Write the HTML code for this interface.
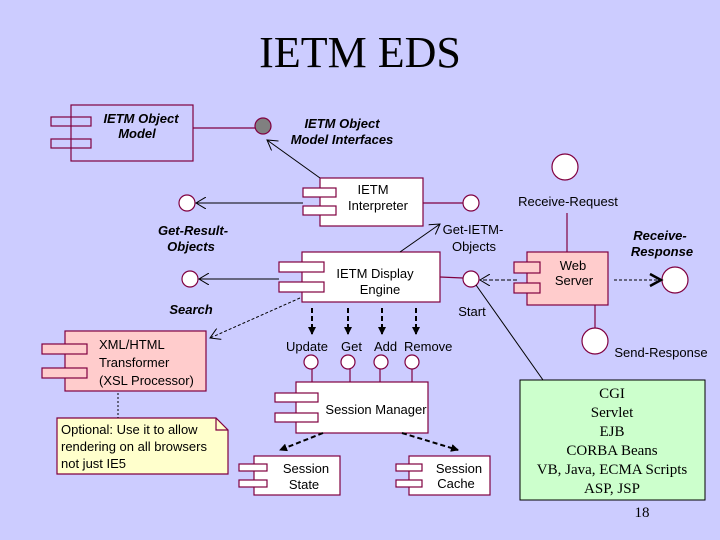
<!DOCTYPE html>
<html><head><style>body{margin:0;background:#ccccff}svg{display:block}text{font-family:"Liberation Sans",sans-serif;font-size:13px;fill:#000}.bi{font-weight:bold;font-style:italic}.s{font-family:"Liberation Serif",serif;font-size:15px}</style></head><body>
<svg width="720" height="540" viewBox="0 0 720 540" xmlns="http://www.w3.org/2000/svg">
<defs>
<marker id="o" markerWidth="12" markerHeight="12" refX="10" refY="6" orient="auto" markerUnits="userSpaceOnUse"><path d="M0,0 L10,6 L0,12" fill="none" stroke="#000" stroke-width="1"/></marker>
<marker id="f" markerWidth="8" markerHeight="8" refX="7" refY="4" orient="auto" markerUnits="userSpaceOnUse"><path d="M0,0 L8,4 L0,8z" fill="#000"/></marker>
<marker id="b" markerWidth="14" markerHeight="12" refX="12" refY="6" orient="auto" markerUnits="userSpaceOnUse"><path d="M0,0 L12,6 L0,12" fill="none" stroke="#000" stroke-width="2.5"/></marker>
</defs>
<rect width="720" height="540" fill="#ccccff"/>
<text x="360" y="67" text-anchor="middle" style="font-family:'Liberation Serif',serif;font-size:44px">IETM EDS</text>
<g stroke="#800040" stroke-width="1.2">
<!-- Object Model -->
<rect x="71" y="105" width="122" height="56" fill="none"/>
<rect x="51" y="117" width="40" height="9" fill="none"/><rect x="51" y="139" width="40" height="9" fill="none"/>
<line x1="193" y1="128" x2="255" y2="128"/>
<circle cx="263" cy="126" r="8" fill="#808080"/>
<!-- Interpreter -->
<rect x="320" y="178" width="103" height="48" fill="#fff"/>
<rect x="303" y="188" width="33" height="9" fill="#fff"/><rect x="303" y="206" width="33" height="9" fill="#fff"/>
<line x1="423" y1="203" x2="463" y2="203"/>
<circle cx="471" cy="203" r="8" fill="#fff"/>
<circle cx="187" cy="203" r="8" fill="#fff"/>
<!-- Display Engine -->
<rect x="302" y="252" width="138" height="50" fill="#fff"/>
<rect x="279" y="262" width="45" height="10" fill="#fff"/><rect x="279" y="282" width="45" height="10" fill="#fff"/>
<line x1="440" y1="277" x2="463" y2="278"/>
<circle cx="471" cy="279" r="8" fill="#fff"/>
<circle cx="190" cy="279" r="8" fill="#fff"/>
<!-- Web server -->
<circle cx="565" cy="167" r="13" fill="#fff"/>
<line x1="567" y1="213" x2="567" y2="252"/>
<rect x="527" y="252" width="81" height="53" fill="#ffcccc"/>
<rect x="514" y="262" width="26" height="11" fill="#ffcccc"/><rect x="514" y="283" width="26" height="10" fill="#ffcccc"/>
<circle cx="675" cy="280" r="13" fill="#fff"/>
<line x1="595" y1="305" x2="595" y2="328"/>
<circle cx="595" cy="341" r="13" fill="#fff"/>
<!-- XML -->
<rect x="65" y="331" width="141" height="60" fill="#ffcccc"/>
<rect x="42" y="344" width="45" height="10" fill="#ffcccc"/><rect x="42" y="368" width="45" height="10" fill="#ffcccc"/>
<path d="M57,418 H216 L228,430 V474 H57 Z" fill="#ffffcc"/><path d="M216,418 V430 H228" fill="none"/>
<!-- Session manager -->
<circle cx="311" cy="362" r="7" fill="#fff"/><circle cx="348" cy="362" r="7" fill="#fff"/>
<circle cx="381" cy="362" r="7" fill="#fff"/><circle cx="412" cy="362" r="7" fill="#fff"/>
<line x1="312" y1="369" x2="312" y2="382"/><line x1="350" y1="369" x2="350" y2="382"/>
<line x1="380" y1="369" x2="380" y2="382"/><line x1="412" y1="369" x2="412" y2="382"/>
<rect x="296" y="382" width="132" height="51" fill="#fff"/>
<rect x="275" y="393" width="43" height="9" fill="#fff"/><rect x="275" y="413" width="43" height="9" fill="#fff"/>
<rect x="254" y="456" width="86" height="39" fill="#fff"/>
<rect x="239" y="464" width="28" height="7" fill="#fff"/><rect x="239" y="480" width="28" height="7" fill="#fff"/>
<rect x="409" y="456" width="81" height="39" fill="#fff"/>
<rect x="396" y="464" width="26" height="7" fill="#fff"/><rect x="396" y="480" width="26" height="7" fill="#fff"/>
</g>
<g stroke="#000" stroke-width="1" fill="none">
<line x1="320" y1="178" x2="267" y2="140" marker-end="url(#o)"/>
<line x1="303" y1="203" x2="196" y2="203" marker-end="url(#o)"/>
<line x1="279" y1="279" x2="199" y2="279" marker-end="url(#o)"/>
<line x1="300" y1="298" x2="210" y2="338" stroke-dasharray="3,2" marker-end="url(#o)"/>
<line x1="400" y1="252" x2="440" y2="224" marker-end="url(#o)"/>
<line x1="517" y1="280" x2="480" y2="280" stroke-dasharray="4,2" marker-end="url(#o)"/>
<line x1="614" y1="280" x2="661" y2="280" stroke-dasharray="3,2"/>
<path d="M650,274 L661,280 L650,286" stroke-width="2.5"/>
<line x1="476" y1="285" x2="543" y2="380"/>
<line x1="118" y1="393" x2="118" y2="418" stroke-dasharray="2,2"/>
<g stroke-width="2" stroke-dasharray="5,3">
<line x1="312" y1="308" x2="312" y2="334" marker-end="url(#f)"/>
<line x1="348" y1="308" x2="348" y2="334" marker-end="url(#f)"/>
<line x1="382" y1="308" x2="382" y2="334" marker-end="url(#f)"/>
<line x1="416" y1="308" x2="416" y2="334" marker-end="url(#f)"/>
<line x1="323" y1="433" x2="280" y2="450" marker-end="url(#f)"/>
<line x1="402" y1="433" x2="458" y2="450" marker-end="url(#f)"/>
</g>
</g>
<rect x="520" y="380" width="185" height="120" fill="#ccffcc" stroke="#000"/>
<text class="bi" x="141" y="123" text-anchor="middle">IETM Object</text>
<text class="bi" x="137" y="138" text-anchor="middle">Model</text>
<text class="bi" x="342" y="128" text-anchor="middle">IETM Object</text>
<text class="bi" x="342" y="144" text-anchor="middle">Model Interfaces</text>
<text x="373" y="194" text-anchor="middle">IETM</text>
<text x="378" y="210" text-anchor="middle">Interpreter</text>
<text class="bi" x="193" y="235" text-anchor="middle">Get-Result-</text>
<text class="bi" x="191" y="251" text-anchor="middle">Objects</text>
<text x="473" y="234" text-anchor="middle">Get-IETM-</text>
<text x="474" y="251" text-anchor="middle">Objects</text>
<text x="375" y="278" text-anchor="middle">IETM Display</text>
<text x="380" y="294" text-anchor="middle">Engine</text>
<text class="bi" x="191" y="314" text-anchor="middle">Search</text>
<text x="472" y="316" text-anchor="middle">Start</text>
<text x="568" y="206" text-anchor="middle">Receive-Request</text>
<text class="bi" x="660" y="240" text-anchor="middle">Receive-</text>
<text class="bi" x="662" y="256" text-anchor="middle">Response</text>
<text x="573" y="270" text-anchor="middle">Web</text>
<text x="574" y="285" text-anchor="middle">Server</text>
<text x="661" y="357" text-anchor="middle">Send-Response</text>
<text x="99" y="349">XML/HTML</text>
<text x="99" y="367">Transformer</text>
<text x="99" y="385">(XSL Processor)</text>
<text x="61" y="434">Optional: Use it to allow</text>
<text x="61" y="451">rendering on all browsers</text>
<text x="61" y="468">not just IE5</text>
<text x="286" y="351">Update</text><text x="341" y="351">Get</text><text x="374" y="351">Add</text><text x="404" y="351">Remove</text>
<text x="376" y="414" text-anchor="middle">Session Manager</text>
<text x="306" y="473" text-anchor="middle">Session</text><text x="304" y="489" text-anchor="middle">State</text>
<text x="459" y="473" text-anchor="middle">Session</text><text x="456" y="488" text-anchor="middle">Cache</text>
<g class="s" text-anchor="middle">
<text class="s" x="612" y="398">CGI</text>
<text class="s" x="612" y="417">Servlet</text>
<text class="s" x="612" y="436">EJB</text>
<text class="s" x="612" y="455">CORBA Beans</text>
<text class="s" x="612" y="474">VB, Java, ECMA Scripts</text>
<text class="s" x="612" y="493">ASP, JSP</text>
<text class="s" x="642" y="517">18</text>
</g>
</svg>
</body></html>
